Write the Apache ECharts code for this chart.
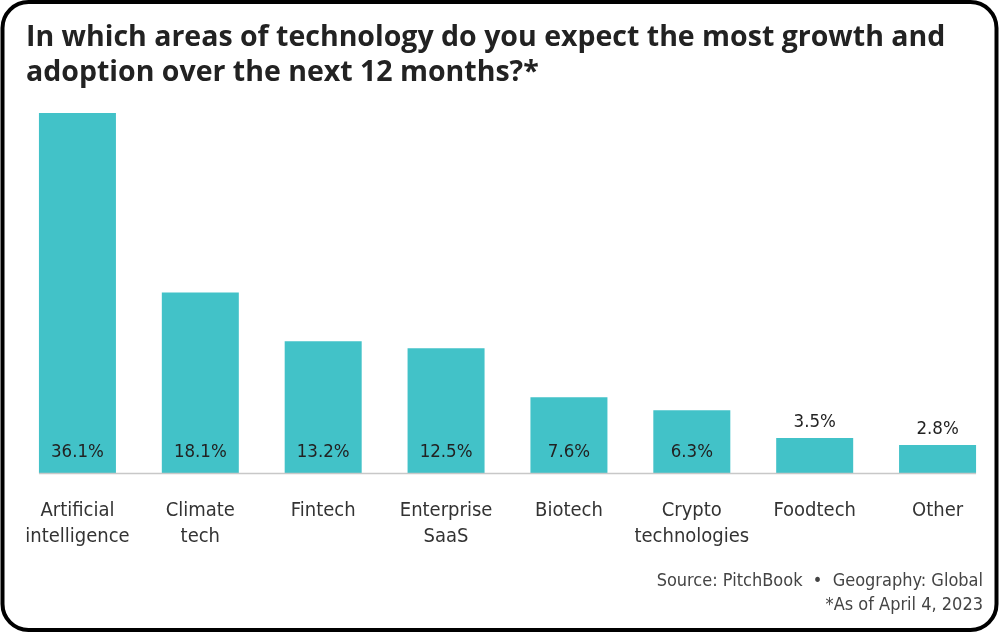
<!DOCTYPE html>
<html>
<head>
<meta charset="utf-8">
<script src="https://cdn.jsdelivr.net/npm/echarts@6/dist/echarts.min.js"></script>
<style>
  html, body { margin: 0; padding: 0; background: #fff; }
  #main { width: 1000px; height: 633px; }
</style>
</head>
<body>
<div id="main"></div>
<script>
// data
var categories = ['Artificial\nintelligence', 'Climate\ntech', 'Fintech', 'Enterprise\nSaaS',
                  'Biotech', 'Crypto\ntechnologies', 'Foodtech', 'Other'];
var shares = [36.1, 18.1, 13.2, 12.5, 7.6, 6.3, 3.5, 2.8];
var insideLimit = 5; // below this the label goes above the bar

var teal = '#42c2c8';
var labelFont = '"DejaVu Sans Condensed", sans-serif';

var chart = echarts.init(document.getElementById('main'));

var barData = shares.map(function (v) {
    var inside = v >= insideLimit;
    return {
        value: v,
        label: inside
            ? { position: 'insideBottom', distance: 11 }
            : { position: 'top', distance: 6 }
    };
});

var option = {
    animation: false,
    backgroundColor: '#fff',
    title: {
        text: 'In which areas of technology do you expect the most growth and\nadoption over the next 12 months?*',
        left: 21,
        top: 15,
        textStyle: {
            fontFamily: '"Open Sans", sans-serif',
            fontWeight: 'bold',
            fontSize: 28.5,
            lineHeight: 35,
            color: '#222'
        }
    },
    grid: { left: 16, right: 1, top: 113, bottom: 160 },
    xAxis: {
        type: 'category',
        data: categories,
        axisLine: { show: false },
        axisTick: { show: false },
        axisLabel: {
            margin: 25,
            fontFamily: labelFont,
            fontSize: 20,
            lineHeight: 26,
            color: '#333',
            interval: 0
        }
    },
    yAxis: {
        type: 'value',
        min: 0,
        max: 36.1,
        show: false
    },
    series: [{
        type: 'bar',
        data: barData,
        barWidth: 77,
        itemStyle: { color: teal },
        label: {
            show: true,
            formatter: function (p) { return p.value.toFixed(1) + '%'; },
            fontFamily: labelFont,
            fontSize: 18.5,
            color: '#222'
        }
    }],
    graphic: [
        {
            id: 'frame',
            type: 'rect',
            shape: { x: 2.5, y: 2, width: 994, height: 628, r: 26 },
            style: { fill: 'none', stroke: '#000', lineWidth: 4 },
            z: 100
        },
        {
            id: 'source',
            type: 'text',
            right: 17,
            top: 572,
            style: {
                text: 'Source: PitchBook  \u2022  Geography: Global',
                font: '18px "DejaVu Sans Condensed", sans-serif',
                fill: '#444'
            }
        },
        {
            id: 'asof',
            type: 'text',
            right: 17,
            top: 596,
            style: {
                text: '*As of April 4, 2023',
                font: '18px "DejaVu Sans Condensed", sans-serif',
                fill: '#444'
            }
        }
    ]
};
chart.setOption(option);

// baseline only under the bars, from the first bar's left edge to the last bar's right edge
var x0 = chart.convertToPixel({ xAxisIndex: 0 }, 0) - 38.5;
var x1 = chart.convertToPixel({ xAxisIndex: 0 }, categories.length - 1) + 38.5;
var yBase = chart.convertToPixel({ yAxisIndex: 0 }, 0);
chart.setOption({
    graphic: [{
        id: 'baseline',
        type: 'line',
        shape: { x1: x0, y1: yBase + 0.5, x2: x1, y2: yBase + 0.5 },
        style: { stroke: '#c8c8c8', lineWidth: 1.5 },
        z: 5
    }]
});
</script>
</body>
</html>
